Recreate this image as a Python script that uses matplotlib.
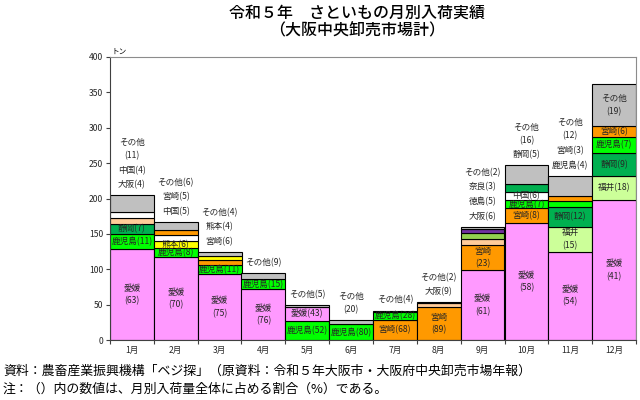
import matplotlib
matplotlib.use('Agg')
import matplotlib.pyplot as plt
import numpy as np

plt.rcParams['font.family'] = ['Noto Sans CJK JP', 'DejaVu Sans']

# データ（トン、括弧内は割合%）
months = ['1月', '2月', '3月', '4月', '5月', '6月', '7月', '8月', '9月', '10月', '11月', '12月']

series = ['愛媛', '鹿児島', '静岡', '福井', '熊本', '大阪', '中国', '宮崎', '徳島', '奈良', 'その他']

ehime = [128.2, 116.9, 93.3, 71.6, 20.2, 0, 0, 0, 98.5, 164.9, 124.8, 197.9]
ehime_pct = [63, 70, 75, 76, 43, 0, 0, 0, 61, 58, 54, 41]
kagoshima = [21.6, 12.7, 12.7, 14.2, 26.9, 22.1, 11.6, 0, 0, 11.8, 9.0, 23.5]
kagoshima_pct = [11, 8, 11, 15, 52, 80, 28, 0, 0, 7, 4, 7]
shizuoka = [13.7, 0, 0, 0, 0, 0, 0, 0, 0, 10.2, 27.4, 32.1]
shizuoka_pct = [7, 0, 0, 0, 0, 0, 0, 0, 0, 5, 12, 9]
fukui = [0, 0, 0, 0, 0, 0, 0, 0, 0, 0, 35.3, 33.9]
fukui_pct = [0, 0, 0, 0, 0, 0, 0, 0, 0, 0, 15, 18]
kumamoto = [0, 10.5, 5.5, 0, 0, 0, 0, 0, 0, 0, 0, 0]
kumamoto_pct = [0, 6, 4, 0, 0, 0, 0, 0, 0, 0, 0, 0]
osaka = [9.4, 0, 0, 0, 0, 0, 0, 5.0, 9.4, 0, 0, 0]
osaka_pct = [4, 0, 0, 0, 0, 0, 0, 9, 6, 0, 0, 0]
chugoku = [8.5, 8.0, 0, 0, 0, 0, 0, 0, 0, 11.7, 0, 0]
chugoku_pct = [4, 5, 0, 0, 0, 0, 0, 0, 0, 6, 0, 0]
miyazaki = [0, 8.0, 7.5, 0, 0, 0, 28.3, 47.1, 35.5, 21.2, 7.5, 15.5]
miyazaki_pct = [0, 5, 6, 0, 0, 0, 68, 89, 23, 8, 3, 6]
tokushima = [0, 0, 0, 0, 0, 0, 0, 0, 7.6, 0, 0, 0]
tokushima_pct = [0, 0, 0, 0, 0, 0, 0, 0, 5, 0, 0, 0]
nara = [0, 0, 0, 0, 0, 0, 0, 0, 5.6, 0, 0, 0]
nara_pct = [0, 0, 0, 0, 0, 0, 0, 0, 3, 0, 0, 0]
sonota = [23.1, 10.7, 5.4, 8.4, 2.8, 6.5, 1.7, 1.3, 3.5, 27.2, 28.3, 58.5]
sonota_pct = [11, 6, 4, 9, 5, 20, 4, 2, 2, 16, 12, 19]

values = [ehime, kagoshima, shizuoka, fukui, kumamoto, osaka, chugoku,
          miyazaki, tokushima, nara, sonota]
pcts = [ehime_pct, kagoshima_pct, shizuoka_pct, fukui_pct, kumamoto_pct, osaka_pct,
        chugoku_pct, miyazaki_pct, tokushima_pct, nara_pct, sonota_pct]

colors = {'愛媛': '#FF99FF', '鹿児島': '#00FF00', '静岡': '#00B050', '福井': '#CCFF99',
          '熊本': '#FFFF00', '大阪': '#FFCC99', '中国': '#FFFFFF', '宮崎': '#FF9900',
          '徳島': '#92D050', '奈良': '#7030A0', 'その他': '#C0C0C0'}

fig = plt.figure(figsize=(6.4, 4), dpi=100)
ax = fig.add_axes([110 / 640, 60 / 400, 526 / 640, 283 / 400])

fs = 6.2
tc = '#262626'
for i in range(len(months)):
    # 割合の大きい順に下から積む（その他は最上段）
    order = [k for k in range(len(series) - 1) if values[k][i] > 0]
    order.sort(key=lambda k: -pcts[k][i])
    order.append(len(series) - 1)
    bottom = 0
    outside = []
    for k in order:
        v = values[k][i]
        name = series[k]
        ax.bar(i, v, bottom=bottom, width=1, color=colors[name],
               edgecolor='black', linewidth=0.8)
        limit = 40 if name == 'その他' else 10.5
        if v >= limit:
            if v >= 35:
                txt = f'{name}\n({pcts[k][i]})'
            else:
                txt = f'{name}({pcts[k][i]})'
            ax.text(i, bottom + v / 2, txt, ha='center', va='center',
                    fontsize=fs, linespacing=1.5, color=tc)
        else:
            outside.append((name, pcts[k][i]))
        bottom += v
    # 棒の上のラベル
    off = 7.5
    for name, p in outside:
        if p >= 10:
            ax.annotate(f'({p})', (i, bottom), xytext=(0, off), textcoords='offset points',
                        ha='center', va='center', fontsize=fs, color=tc)
            off += 9.5
            ax.annotate(name, (i, bottom), xytext=(0, off), textcoords='offset points',
                        ha='center', va='center', fontsize=fs, color=tc)
        else:
            ax.annotate(f'{name}({p})', (i, bottom), xytext=(0, off), textcoords='offset points',
                        ha='center', va='center', fontsize=fs, color=tc)
        off += 10.5

ax.set_xlim(-0.5, len(months) - 0.5)
ax.set_ylim(0, 400)
ax.set_yticks(np.arange(0, 401, 50))
ax.set_xticks(np.arange(-0.5, len(months)))
ax.set_xticklabels([])
ax.set_xticks(np.arange(len(months)), minor=True)
ax.set_xticklabels(months, minor=True, fontsize=fs, color=tc)
ax.tick_params(axis='x', which='minor', length=0, pad=4)
ax.tick_params(axis='x', which='major', length=3, color='#404040')
ax.tick_params(axis='y', length=3, labelsize=6.2, color='#404040', labelcolor=tc, pad=2)
for s in ax.spines.values():
    s.set_color('#8C8C8C')
    s.set_linewidth(0.8)
ax.spines['left'].set_color('#404040')
ax.spines['bottom'].set_color('#404040')
ax.text(0.003, 1.005, 'トン', transform=ax.transAxes, fontsize=5.5, ha='left', va='bottom')

fig.text(357 / 640, 1 - 13 / 400, '令和５年　さといもの月別入荷実績', ha='center', va='center',
         fontsize=11.5, fontweight='medium')
fig.text(357 / 640, 1 - 30 / 400, '（大阪中央卸売市場計）', ha='center', va='center',
         fontsize=11.5, fontweight='medium')

fig.text(3 / 640, 1 - 371 / 400,
         '資料：農畜産業振興機構「ベジ探」（原資料：令和５年大阪市・大阪府中央卸売市場年報）',
         ha='left', va='center', fontsize=9.3)
fig.text(3 / 640, 1 - 389 / 400,
         '注：（）内の数値は、月別入荷量全体に占める割合（%）である。',
         ha='left', va='center', fontsize=9.3)

fig.savefig('out.png', dpi=100)
